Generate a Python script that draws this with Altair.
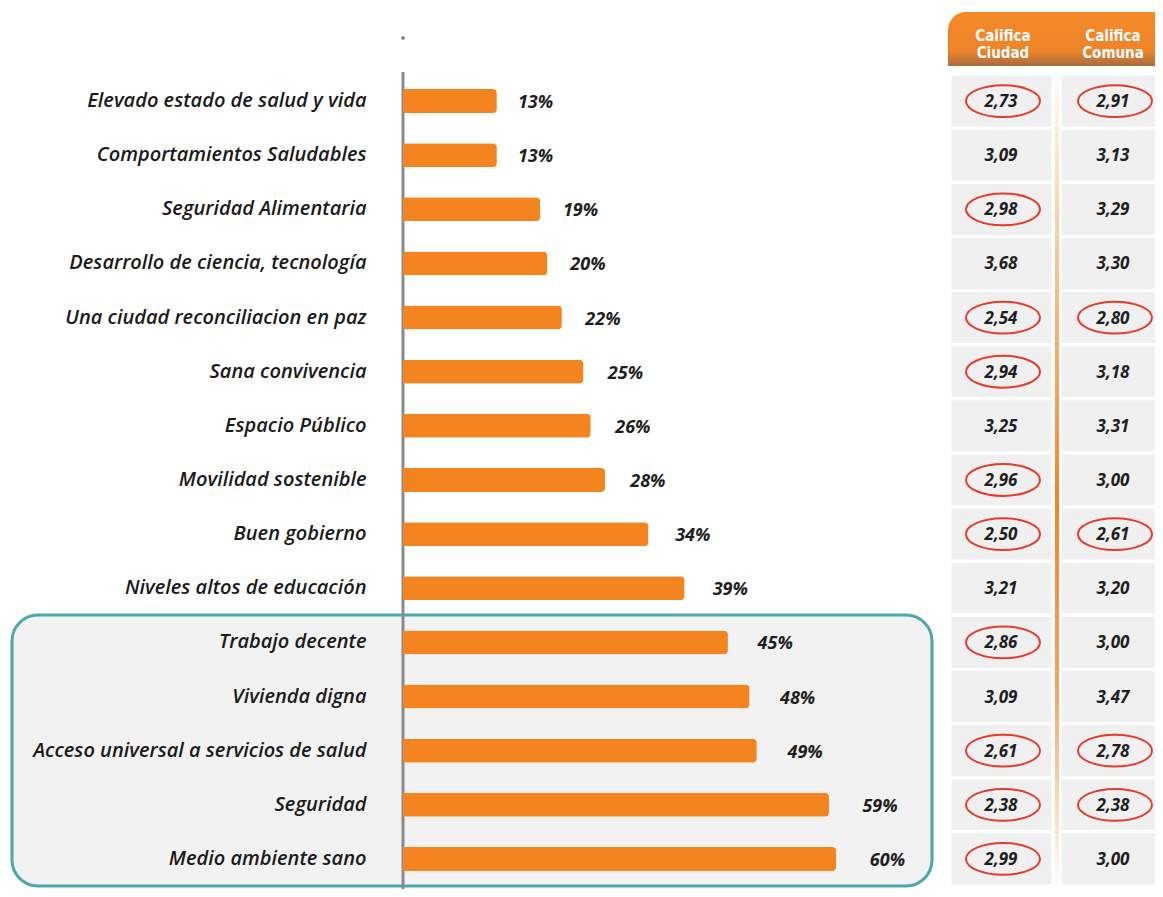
import altair as alt
import pandas as pd

categories = [
    "Elevado estado de salud y vida",
    "Comportamientos Saludables",
    "Seguridad Alimentaria",
    "Desarrollo de ciencia, tecnología",
    "Una ciudad reconciliacion en paz",
    "Sana convivencia",
    "Espacio Público",
    "Movilidad sostenible",
    "Buen gobierno",
    "Niveles altos de educación",
    "Trabajo decente",
    "Vivienda digna",
    "Acceso universal a servicios de salud",
    "Seguridad",
    "Medio ambiente sano",
]
percentages = [13, 13, 19, 20, 22, 25, 26, 28, 34, 39, 45, 48, 49, 59, 60]
califica_ciudad = [2.73, 3.09, 2.98, 3.68, 2.54, 2.94, 3.25, 2.96, 2.50, 3.21, 2.86, 3.09, 2.61, 2.38, 2.99]
califica_comuna = [2.91, 3.13, 3.29, 3.30, 2.80, 3.18, 3.31, 3.00, 2.61, 3.20, 3.00, 3.47, 2.78, 2.38, 3.00]
header_ciudad = "Califica\nCiudad"
header_comuna = "Califica\nComuna"

def fmt(v):
    return f"{v:.2f}".replace(".", ",")

df = pd.DataFrame({
    "category": categories,
    "pct": percentages,
    "pct_label": [f"{p}%" for p in percentages],
    "ciudad": califica_ciudad,
    "comuna": califica_comuna,
    "ciudad_label": [fmt(v) for v in califica_ciudad],
    "comuna_label": [fmt(v) for v in califica_comuna],
})

one = pd.DataFrame({"k": [0]})
hdr = pd.DataFrame({"h1": [header_ciudad], "h2": [header_comuna]})

ORANGE = "#f4841f"
TEAL = "#4ea6ae"
RED = "#e53b2e"
LABEL_FONT = "Open Sans"

y_enc = alt.Y(
    "category:N",
    sort=categories,
    scale=alt.Scale(paddingInner=0, paddingOuter=0),
    axis=alt.Axis(
        title=None, ticks=False, domain=False, labelFont=LABEL_FONT,
        labelFontStyle="italic", labelFontWeight=600, labelFontSize=20,
        labelColor="#1a1a1a", labelPadding=37, labelLimit=420, zindex=1,
    ),
)
x_scale = alt.Scale(domain=[0, 104.15], nice=False, zero=True)

base = alt.Chart(df)

teal_box = alt.Chart(one).mark_rect(
    fill="#f2f2f2", stroke=TEAL, strokeWidth=3, cornerRadius=26
).encode(x=alt.value(-391), x2=alt.value(529), y=alt.value(541), y2=alt.value(812))

axis_rule = alt.Chart(one).mark_rule(color="#8a8a8a", strokeWidth=3).encode(
    x=alt.value(0), y=alt.value(-2), y2=alt.value(816)
)

top_dot = alt.Chart(one).mark_point(
    shape="square", filled=True, size=10, color="#777777", opacity=1
).encode(x=alt.value(0), y=alt.value(-36))

bars = base.mark_bar(color=ORANGE, size=24, cornerRadiusEnd=4).encode(
    y=y_enc,
    x=alt.X("pct:Q", scale=x_scale, axis=None),
)

pct_text = base.transform_calculate(
    label_x="datum.pct * 1.037 + 2.44"
).mark_text(
    align="left", baseline="middle", dy=2, font=LABEL_FONT, fontStyle="italic",
    fontWeight="bold", fontSize=18, color="#1e1e1e",
).encode(y=y_enc, x=alt.X("label_x:Q", scale=x_scale, axis=None), text="pct_label:N")

cells1 = base.mark_rect(fill="#f0f0f0", stroke="white", strokeWidth=3).encode(
    y=y_enc, x=alt.value(547), x2=alt.value(650)
)
cells2 = base.mark_rect(fill="#f0f0f0", stroke="white", strokeWidth=3).encode(
    y=y_enc, x=alt.value(657), x2=alt.value(762)
)

divider = alt.Chart(one).mark_rect(
    color=alt.LinearGradient(
        gradient="linear", x1=0, x2=0, y1=0, y2=1,
        stops=[
            alt.GradientStop(color="#ffffff", offset=0),
            alt.GradientStop(color="#fcd9b5", offset=0.15),
            alt.GradientStop(color="#f4841f", offset=0.52),
            alt.GradientStop(color="#f6a25a", offset=0.75),
            alt.GradientStop(color="#ffffff", offset=1),
        ],
    )
).encode(x=alt.value(652), x2=alt.value(656), y=alt.value(-6), y2=alt.value(815))

header = alt.Chart(one).mark_rect(
    cornerRadiusTopLeft=18,
    color=alt.LinearGradient(
        gradient="linear", x1=0, x2=0, y1=0, y2=1,
        stops=[
            alt.GradientStop(color="#f58a2a", offset=0),
            alt.GradientStop(color="#ef8429", offset=0.72),
            alt.GradientStop(color="#a86c40", offset=1),
        ],
    ),
).encode(x=alt.value(545), x2=alt.value(762), y=alt.value(-62), y2=alt.value(-8))

hfont = "Liberation Sans Narrow, DejaVu Sans Condensed, sans-serif"
head1 = alt.Chart(hdr).mark_text(
    align="center", baseline="middle", lineBreak="\n", lineHeight=17,
    font=hfont, fontWeight="bold", fontSize=15, color="white",
).encode(x=alt.value(600), y=alt.value(-38), text="h1:N")
head2 = alt.Chart(hdr).mark_text(
    align="center", baseline="middle", lineBreak="\n", lineHeight=17,
    font=hfont, fontWeight="bold", fontSize=15, color="white",
).encode(x=alt.value(710), y=alt.value(-38), text="h2:N")

ellipse = "M-1,0 A1,0.43 0 1,0 1,0 A1,0.43 0 1,0 -1,0 Z"
ell1 = base.transform_filter("datum.ciudad < 3").mark_point(
    shape=ellipse, size=74 * 74, filled=False, color=RED, strokeWidth=2, opacity=1
).encode(y=y_enc, x=alt.value(600))
ell2 = base.transform_filter("datum.comuna < 3").mark_point(
    shape=ellipse, size=74 * 74, filled=False, color=RED, strokeWidth=2, opacity=1
).encode(y=y_enc, x=alt.value(712))

val_style = dict(align="center", baseline="middle", dy=1, font=LABEL_FONT,
                 fontStyle="italic", fontWeight="bold", fontSize=17, color="#1e1e1e")
vals1 = base.mark_text(**val_style).encode(y=y_enc, x=alt.value(598), text="ciudad_label:N")
vals2 = base.mark_text(**val_style).encode(y=y_enc, x=alt.value(710), text="comuna_label:N")

chart = alt.layer(
    teal_box, axis_rule, top_dot, bars, pct_text,
    cells1, cells2, divider, header, head1, head2,
    ell1, ell2, vals1, vals2,
).properties(
    width=752, height=812,
    padding={"left": 395, "top": 66, "right": 0, "bottom": 3},
    autosize="none",
    background="white",
).configure_view(stroke=None)

chart.save("out.html", embed_options={"renderer": "svg", "actions": False})
